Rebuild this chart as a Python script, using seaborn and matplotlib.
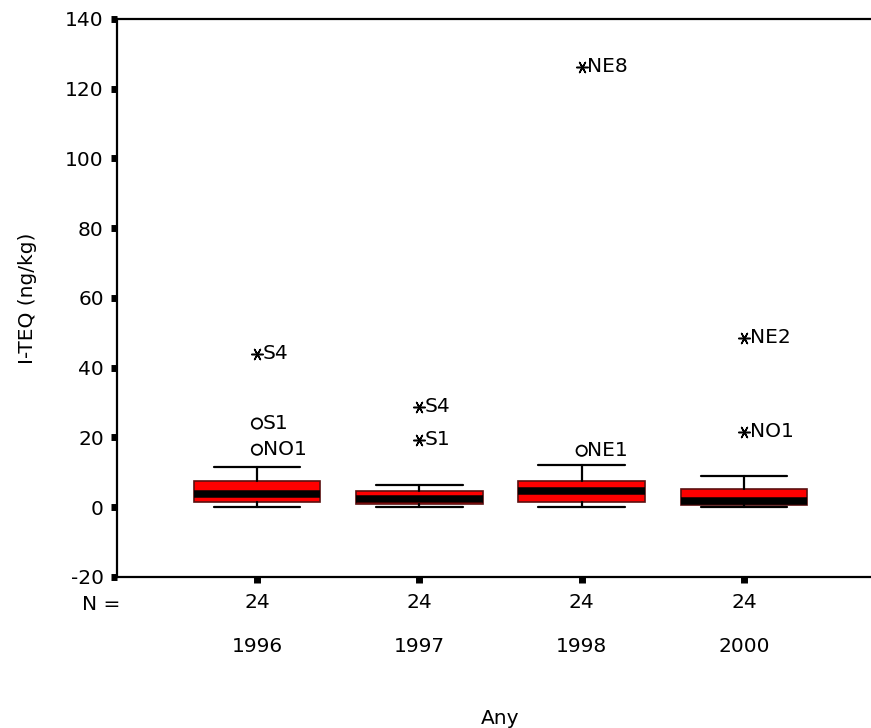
import matplotlib
matplotlib.use("Agg")
import matplotlib.pyplot as plt
import seaborn as sns
import pandas as pd

# Summary statistics of I-TEQ (ng/kg) per sampling year
years = ["1996", "1997", "1998", "2000"]
n_counts = [24, 24, 24, 24]
medians = [3.9, 2.3, 4.8, 1.9]
q1 = [1.6, 0.8, 1.5, 0.7]
q3 = [7.6, 4.8, 7.6, 5.3]
whisker_low = [0.0, 0.0, 0.0, 0.0]
whisker_high = [11.4, 6.3, 12.2, 9.1]

# Outlying sites: year index, value, site label, kind (o = outlier, * = extreme)
out_year = [0, 0, 0, 1, 1, 2, 2, 3, 3]
out_value = [44.0, 24.0, 16.5, 28.8, 19.4, 126.3, 16.2, 48.6, 21.6]
out_label = ["S4", "S1", "NO1", "S4", "S1", "NE8", "NE1", "NE2", "NO1"]
out_kind = ["*", "o", "o", "*", "*", "*", "o", "*", "*"]

sns.set_style("ticks")
plt.rcParams["font.family"] = ["DejaVu Sans"]
plt.rcParams.update({"text.color": "black", "axes.labelcolor": "black",
                     "xtick.color": "black", "ytick.color": "black"})
FS = 14.5

fig = plt.figure(figsize=(8.71, 7.28), dpi=100)
ax = fig.add_axes([117 / 871, 1 - 577 / 728, 767 / 871, 558 / 728])

stats = []
for i, yr in enumerate(years):
    stats.append(dict(med=medians[i], q1=q1[i], q3=q3[i],
                      whislo=whisker_low[i], whishi=whisker_high[i],
                      fliers=[], label=yr))

ax.bxp(stats, positions=range(len(years)), widths=0.78, capwidths=0.535,
       patch_artist=True, showfliers=False,
       boxprops=dict(facecolor="#ff0000", edgecolor="#5a1010", linewidth=1.2),
       medianprops=dict(color="black", linewidth=5.4, solid_capstyle="butt"),
       whiskerprops=dict(color="black", linewidth=1.6),
       capprops=dict(color="black", linewidth=1.6))

outliers = pd.DataFrame({"x": out_year, "value": out_value,
                         "label": out_label, "kind": out_kind})
circles = outliers[outliers["kind"] == "o"]
extremes = outliers[outliers["kind"] == "*"]
sns.scatterplot(data=circles, x="x", y="value", marker="o", s=55,
                facecolor="none", edgecolor="black", linewidth=1.3,
                legend=False, ax=ax, zorder=5)
sns.scatterplot(data=extremes, x="x", y="value", marker=(6, 2, 90), s=70,
                color="black", linewidth=1.1, legend=False, ax=ax, zorder=5)
for _, r in outliers.iterrows():
    ax.annotate(r["label"], (r["x"], r["value"]), xytext=(4, 0),
                textcoords="offset points", ha="left", va="center",
                fontsize=FS, color="black")

ax.set_xlim(-0.862, 3.862)
ax.set_ylim(-20, 140)
ax.set_yticks(range(-20, 141, 20))
ax.set_yticklabels([str(v) for v in range(-20, 141, 20)], fontsize=FS)
ax.set_xticks(range(len(years)))
ax.set_xticklabels([f"{n}\n\n{y}" for n, y in zip(n_counts, years)],
                   fontsize=FS, linespacing=1.2)

ax.tick_params(axis="both", direction="out", length=4.5, width=5, color="black")
ax.tick_params(axis="y", pad=5)
ax.tick_params(axis="x", pad=7)
for side in ["left", "bottom", "top"]:
    ax.spines[side].set_linewidth(1.6)
    ax.spines[side].set_color("black")
ax.spines["right"].set_visible(False)

ax.set_xlabel("Any", fontsize=FS, labelpad=38)
ax.set_ylabel("I-TEQ (ng/kg)", fontsize=FS, labelpad=20)
fig.text(101 / 871, 1 - 604 / 728, "N =", fontsize=FS, ha="center", va="center")

fig.savefig("out.png", dpi=100, facecolor="white")
